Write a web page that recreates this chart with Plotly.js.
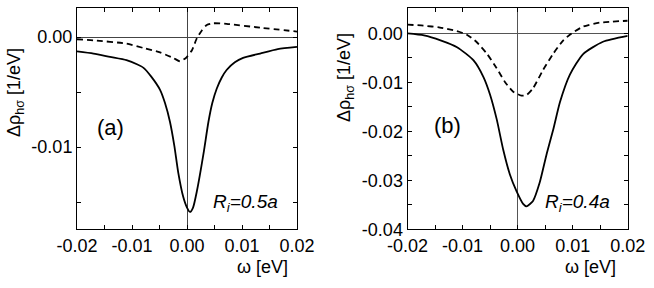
<!DOCTYPE html>
<html>
<head>
<meta charset="utf-8">
<script src="https://cdn.plot.ly/plotly-3.0.1.min.js"></script>
<style>html,body{margin:0;padding:0;background:#fff;}#chart{width:654px;height:288px;}</style>
</head>
<body>
<div id="chart"></div>
<script>
// Panel (a), R_i = 0.5a
const omegaSolidA = [-0.02,-0.017,-0.014,-0.011,-0.009,-0.0079,-0.0065,-0.0049,-0.004,-0.0031,-0.0023,-0.0016,-0.0007,0,0.00055,0.0011,0.0018,0.003,0.0039,0.0046,0.0054,0.0063,0.0072,0.0087,0.0102,0.0133,0.0165,0.02];
const rhoSolidA  = [-0.0013,-0.0015,-0.0018,-0.0021,-0.0025,-0.0028,-0.0036,-0.0048,-0.006,-0.0077,-0.0099,-0.0123,-0.0145,-0.0155,-0.0159,-0.0155,-0.0140,-0.0106,-0.0077,-0.0060,-0.0047,-0.0037,-0.003,-0.0023,-0.0019,-0.0015,-0.0011,-0.0009];
const omegaDashA = [-0.02,-0.017,-0.011,-0.0079,-0.0049,-0.0025,-0.0013,-0.0002,0.0009,0.0018,0.0027,0.0036,0.0048,0.0072,0.0133,0.02];
const rhoDashA   = [-0.0002,-0.0003,-0.0006,-0.001,-0.0014,-0.0019,-0.0022,-0.0019,-0.0012,-0.0001,0.0006,0.0011,0.00125,0.0012,0.00085,0.0005];

// Panel (b), R_i = 0.4a
const omegaSolidB = [-0.02,-0.017,-0.014,-0.011,-0.008,-0.0062,-0.005,-0.0038,-0.0026,-0.0014,-0.0002,0.001,0.0016,0.0028,0.004,0.0053,0.0065,0.0077,0.0095,0.0119,0.0155,0.02];
const rhoSolidB  = [0.0,-0.0004,-0.0014,-0.0028,-0.0055,-0.0089,-0.0125,-0.0175,-0.0238,-0.0288,-0.0322,-0.0348,-0.0353,-0.0342,-0.0305,-0.0245,-0.0195,-0.0140,-0.0084,-0.0042,-0.0017,-0.0005];
const omegaDashB = [-0.02,-0.0171,-0.0141,-0.0111,-0.0093,-0.0075,-0.0056,-0.0038,-0.0023,-0.0008,0.0007,0.0016,0.0028,0.0046,0.0065,0.0083,0.0098,0.0119,0.0149,0.02];
const rhoDashB   = [0.0018,0.0016,0.0012,0.0005,-0.0002,-0.0017,-0.0041,-0.0071,-0.0099,-0.0119,-0.0127,-0.0126,-0.0112,-0.0075,-0.0041,-0.0014,0.0,0.0014,0.0022,0.0026];

const xTickVals = [-0.02,-0.01,0,0.01,0.02];
const xTickText = ['-0.02','-0.01','0.00','0.01','0.02'];
const yTickValsA = [0,-0.01];
const yTickTextA = ['0.00','-0.01'];
const yTickValsB = [0,-0.01,-0.02,-0.03,-0.04];
const yTickTextB = ['0.00','-0.01','-0.02','-0.03','-0.04'];

const FONT = 'Liberation Sans, Arial, Helvetica, sans-serif';
const solid = {color:'#000', width:1.8, shape:'spline', smoothing:0.6};
const dashed = {color:'#000', width:1.8, dash:'6px,4px', shape:'spline', smoothing:0.6};

const traces = [
  {x:omegaSolidA, y:rhoSolidA, mode:'lines', line:solid, xaxis:'x', yaxis:'y', hoverinfo:'skip'},
  {x:omegaDashA, y:rhoDashA, mode:'lines', line:dashed, xaxis:'x', yaxis:'y', hoverinfo:'skip'},
  {x:omegaSolidB, y:rhoSolidB, mode:'lines', line:solid, xaxis:'x2', yaxis:'y2', hoverinfo:'skip'},
  {x:omegaDashB, y:rhoDashB, mode:'lines', line:dashed, xaxis:'x2', yaxis:'y2', hoverinfo:'skip'}
];

function axis(extra){
  return Object.assign({
    showline:true, linecolor:'#000', linewidth:1, mirror:'ticks',
    ticks:'inside', ticklen:4, tickwidth:1, tickcolor:'#000',
    showgrid:false, zeroline:true, zerolinecolor:'#444', zerolinewidth:1,
    tickmode:'array', tickfont:{family:FONT, size:18, color:'#000'},
    minor:{ticks:'inside', ticklen:4, tickcolor:'#000', dtick:0.005, tick0:0, showgrid:false},
    fixedrange:true
  }, extra);
}

const W = 654, H = 288;
const px = v => v / W, py = v => 1 - v / H;
const ann = (x, y, text, size, extra) => Object.assign({xref:'paper', yref:'paper', x:px(x), y:py(y), text:text, showarrow:false, xanchor:'center', yanchor:'middle', font:{family:FONT, size:size, color:'#000'}}, extra || {});

const layout = {
  width:W, height:H, margin:{l:0,r:0,t:0,b:0},
  paper_bgcolor:'#fff', plot_bgcolor:'#fff', showlegend:false,
  xaxis: axis({domain:[px(77), px(297)], range:[-0.02,0.02], tickvals:xTickVals, ticktext:xTickText, anchor:'y'}),
  yaxis: axis({domain:[py(229), py(8)], range:[-0.01745,0.00264], tickvals:yTickValsA, ticktext:yTickTextA, anchor:'x'}),
  xaxis2: axis({domain:[px(407.5), px(627.7)], range:[-0.02,0.02], tickvals:xTickVals, ticktext:xTickText, anchor:'y2', zerolinecolor:'#555'}),
  yaxis2: axis({domain:[py(229.3), py(8)], range:[-0.04,0.0052], tickvals:yTickValsB, ticktext:yTickTextB, anchor:'x2', zerolinecolor:'#555'}),
  annotations:[
    ann(15, 93, 'Δρ<sub>hσ</sub> [1/eV]', 18, {textangle:-90}),
    ann(345, 77, 'Δρ<sub>hσ</sub> [1/eV]', 18, {textangle:-90}),
    ann(290, 267, 'ω [eV]', 18, {xanchor:'right'}),
    ann(618, 267, 'ω [eV]', 18, {xanchor:'right'}),
    ann(110, 127, '(a)', 22),
    ann(447, 125, '(b)', 22),
    ann(211, 203, '<i>R<sub>i</sub>=0.5a</i>', 19, {xanchor:'left'}),
    ann(543, 203, '<i>R<sub>i</sub>=0.4a</i>', 19, {xanchor:'left'})
  ]
};

Plotly.newPlot('chart', traces, layout, {staticPlot:true, displayModeBar:false});
</script>
</body>
</html>
